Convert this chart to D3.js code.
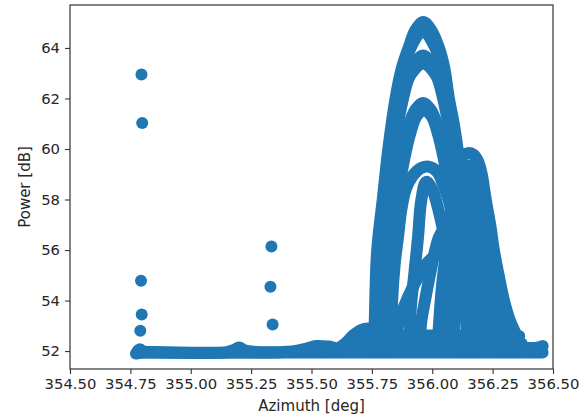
<!DOCTYPE html>
<html>
<head>
<meta charset="utf-8">
<script src="https://cdn.jsdelivr.net/npm/d3@7"></script>
<style>
  body { margin: 0; background: #fff; }
  text { font-family: "DejaVu Sans", sans-serif; fill: #262626; }
</style>
</head>
<body>
<svg id="chart" width="579" height="419"></svg>
<script>
// Axis ticks
const xTicks = [354.50, 354.75, 355.00, 355.25, 355.50, 355.75, 356.00, 356.25, 356.50];
const yTicks = [52, 54, 56, 58, 60, 62, 64];

// Isolated returns (azimuth, power)
const spikeAz = [354.796, 354.799, 354.794, 354.797, 354.791, 355.334, 355.330, 355.339];
const spikePower = [62.95, 61.03, 54.78, 53.45, 52.80, 56.14, 54.55, 53.05];

// Noise floor tracks [azimuth, power]
const floorMain = [[354.773,51.90],[354.80,51.93],[355.00,51.93],[355.19,51.93],[355.40,51.94],[355.60,51.94],[355.80,51.94],[356.00,51.94],[356.20,51.94],[356.457,51.94]];
const floorUpper = [[354.78,52.00],[354.79,52.07],[354.80,52.00],[354.85,51.96],[355.15,51.96],[355.18,52.05],[355.20,52.14],[355.22,52.04],[355.26,51.97],[355.42,51.98],[355.48,52.10],[355.52,52.20],[355.57,52.18],[355.61,52.12],[355.64,52.30],[355.67,52.60],[355.71,52.85],[355.75,52.90]];
const floorHumpLow = [[355.66,52.30],[355.75,52.30],[356.00,52.30],[356.20,52.30],[356.37,52.30]];
const floorHumpHigh = [[355.72,52.62],[356.00,52.62],[356.20,52.62],[356.36,52.60]];
const floorRight = [[356.30,52.13],[356.40,52.12],[356.44,52.15],[356.457,52.20]];

// Beam sweeps, main lobe near 355.96 deg
const sweepA1 = [[355.760,52.1],[355.764,54],[355.772,56],[355.795,58],[355.818,60],[355.848,62],[355.874,63.2],[355.902,64],[355.930,64.7],[355.963,65.03],[355.996,64.7],[356.028,64],[356.050,63.2],[356.069,62],[356.089,61],[356.105,60],[356.130,58],[356.150,56],[356.165,54],[356.170,52.1]];
const sweepA2 = [[355.885,63.2],[355.915,64.1],[355.962,64.68],[356.008,64.1],[356.040,63.2]];
const sweepA3 = [[355.770,52.1],[355.768,53.7],[355.781,55.7],[355.806,57.7],[355.834,59.7],[355.872,61.7],[355.898,62.7],[355.930,63.44],[355.962,63.7],[355.994,63.44],[356.026,62.7],[356.052,61.7],[356.090,59.7],[356.118,57.7],[356.140,55.7],[356.155,53.7],[356.160,52.1]];
const sweepA4 = [[355.880,62.3],[355.915,63.0],[355.962,63.38],[356.010,63.0],[356.045,62.3]];
const sweepA5 = [[355.775,52.1],[355.781,53.8],[355.806,55.8],[355.834,57.8],[355.851,58.8],[355.872,59.8],[355.898,60.8],[355.930,61.55],[355.962,61.82],[355.994,61.55],[356.026,60.8],[356.052,59.8],[356.073,58.8],[356.090,57.8],[356.118,55.8],[356.143,53.8],[356.155,52.1]];
const sweepA6 = [[355.790,52.1],[355.795,53.55],[355.806,54.55],[355.822,55.55],[355.849,57.55],[355.864,58.55],[355.883,59.55],[355.907,60.55],[355.935,61.3],[355.966,61.55],[355.997,61.3],[356.025,60.55],[356.049,59.55],[356.068,58.55],[356.083,57.55],[356.110,55.55],[356.128,54.55],[356.140,53.55],[356.150,52.1]];
const sweepA7 = [[355.832,52.5],[355.834,54],[355.845,55.5],[355.858,56.5],[355.872,57.6],[355.890,58.4],[355.920,58.95],[355.955,59.25],[355.985,59.3],[356.020,59.1],[356.045,58.6],[356.070,57.9],[356.090,57.0],[356.110,56.0],[356.130,54.5],[356.145,52.6]];
const sweepA8 = [[355.905,52.6],[355.912,53.8],[355.925,55.0],[355.941,56.5],[355.955,58.0],[355.975,58.7],[356.000,58.4],[356.020,57.8],[356.040,57.0],[356.055,56.3],[356.065,55.5]];

// Beam sweeps, second lobe near 356.15 deg
const sweepB1 = [[356.025,52.6],[356.035,54],[356.045,55],[356.065,56.4],[356.085,58],[356.100,59.2],[356.120,59.65],[356.145,59.83],[356.170,59.78],[356.190,59.5],[356.205,59.0],[356.215,58.4],[356.225,57.8],[356.240,57.0],[356.255,56.0],[356.275,55.0],[356.297,54.0],[356.318,53.3],[356.340,52.8],[356.355,52.5]];
const sweepB2 = [[356.045,52.6],[356.060,54.5],[356.080,56.5],[356.100,58.0],[356.125,59.0],[356.155,59.35],[356.185,59.0],[356.200,58.3],[356.213,57.3],[356.228,56.2],[356.243,55.0],[356.262,54.0],[356.285,53.0],[356.305,52.5]];
const sweepB3 = [[355.950,52.6],[355.955,53.2],[355.970,54.0],[355.990,55.0],[356.010,55.9],[356.030,56.55],[356.055,56.85],[356.090,56.5],[356.120,55.6],[356.150,54.4],[356.175,53.3],[356.190,52.6]];
const sweepB4 = [[355.850,52.7],[355.870,53.4],[355.900,54.14],[355.940,54.9],[355.980,55.5],[356.030,55.85],[356.070,55.6],[356.100,55.0],[356.130,54.0],[356.150,53.0],[356.160,52.6]];
const sweepB5 = [[356.070,52.6],[356.085,54.5],[356.100,56.5],[356.115,57.7],[356.140,58.3],[356.165,57.9],[356.185,57.0],[356.198,56.0],[356.215,55.0],[356.240,54.0],[356.262,53.0],[356.275,52.5]];
const sweepB6 = [[356.090,52.6],[356.100,54.5],[356.105,56.3],[356.120,57.2],[356.140,56.8],[356.158,55.8],[356.180,54.6],[356.205,53.5],[356.225,52.6]];
const sweepB7 = [[356.100,56.0],[356.120,57.8],[356.145,58.6],[356.165,58.8],[356.185,58.4],[356.200,57.5],[356.210,56.5]];

const tracks = [floorMain, floorUpper, floorHumpLow, floorHumpHigh, floorRight,
  sweepA1, sweepA2, sweepA3, sweepA4, sweepA5, sweepA6, sweepA7, sweepA8,
  sweepB1, sweepB2, sweepB3, sweepB4, sweepB5, sweepB6, sweepB7];

const plot = { left: 70, right: 553, top: 5, bottom: 369 };
const color = "#1f77b4";
const markerDiameter = 12;

const svg = d3.select("#chart");
const x = d3.scaleLinear().domain([354.5, 356.5]).range([plot.left, plot.right]);
const y = d3.scaleLinear().domain([51.29, 65.70]).range([plot.bottom, plot.top]);

const g = svg.append("g");

// Dense returns drawn as marker-width strokes along each sweep
const line = d3.line()
  .x(d => x(d[0]))
  .y(d => y(d[1]))
  .curve(d3.curveCatmullRom.alpha(0.5));

g.selectAll("path.track")
  .data(tracks)
  .join("path")
  .attr("class", "track")
  .attr("d", line)
  .attr("fill", "none")
  .attr("stroke", color)
  .attr("stroke-width", markerDiameter)
  .attr("stroke-linecap", "round")
  .attr("stroke-linejoin", "round");

g.selectAll("circle.spike")
  .data(spikeAz.map((a, i) => [a, spikePower[i]]))
  .join("circle")
  .attr("class", "spike")
  .attr("cx", d => x(d[0]))
  .attr("cy", d => y(d[1]))
  .attr("r", markerDiameter / 2)
  .attr("fill", color);

// Axes
const xAxis = svg.append("g")
  .attr("transform", `translate(0,${plot.bottom})`)
  .call(d3.axisBottom(x).tickValues(xTicks).tickFormat(d3.format(".2f")).tickSize(5).tickSizeOuter(0));
const yAxis = svg.append("g")
  .attr("transform", `translate(${plot.left},0)`)
  .call(d3.axisLeft(y).tickValues(yTicks).tickFormat(d3.format("d")).tickSize(5).tickSizeOuter(0));

[xAxis, yAxis].forEach(a => {
  a.select(".domain").remove();
  a.selectAll(".tick line").attr("stroke", "#333").attr("stroke-width", 1.1);
  a.selectAll(".tick text").attr("font-size", 14.8).attr("fill", "#262626")
    .style("font-family", "DejaVu Sans, sans-serif");
});
xAxis.selectAll(".tick text").attr("y", 9);
yAxis.selectAll(".tick text").attr("x", -10);

svg.append("rect")
  .attr("x", plot.left).attr("y", plot.top)
  .attr("width", plot.right - plot.left).attr("height", plot.bottom - plot.top)
  .attr("fill", "none").attr("stroke", "#333").attr("stroke-width", 1.2);

svg.append("text")
  .attr("transform", `translate(${(plot.left + plot.right) / 2},411)`)
  .attr("text-anchor", "middle")
  .attr("font-size", 15)
  .text("Azimuth [deg]");

svg.append("text")
  .attr("transform", `translate(30,${(plot.top + plot.bottom) / 2}) rotate(-90)`)
  .attr("text-anchor", "middle")
  .attr("font-size", 15)
  .text("Power [dB]");
</script>
</body>
</html>
